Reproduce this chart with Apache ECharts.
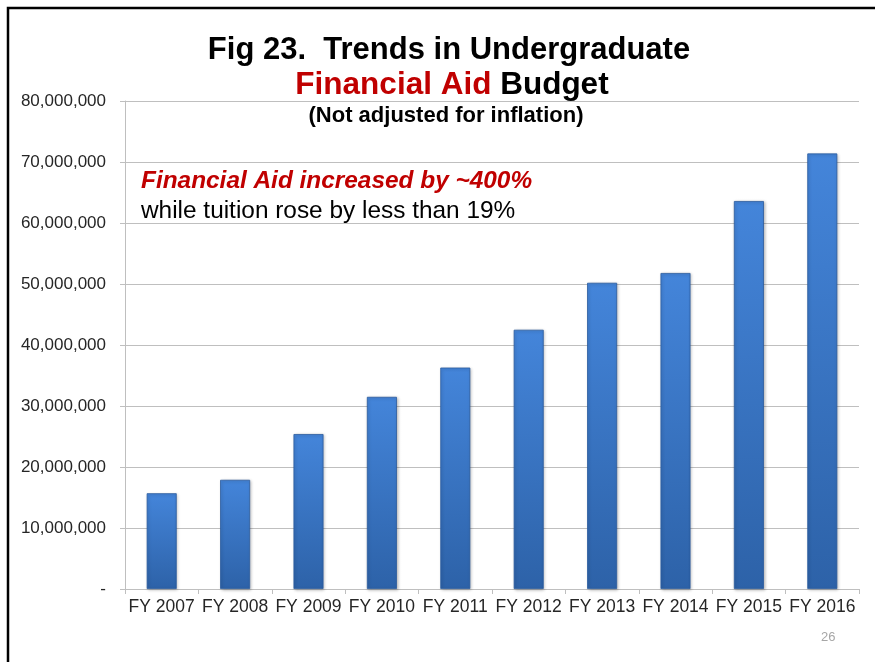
<!DOCTYPE html>
<html>
<head>
<meta charset="utf-8">
<script src="https://cdn.jsdelivr.net/npm/echarts@6/dist/echarts.min.js"></script>
<style>
html,body{margin:0;padding:0;background:#fff;}
#chart{width:875px;height:662px;}
</style>
</head>
<body>
<div id="chart"></div>
<script>
const categories = ['FY 2007','FY 2008','FY 2009','FY 2010','FY 2011','FY 2012','FY 2013','FY 2014','FY 2015','FY 2016'];
const aidBudget = [15700000, 17900000, 25400000, 31500000, 36300000, 42500000, 50200000, 51800000, 63600000, 71400000];
const yTicks = [0, 10000000, 20000000, 30000000, 40000000, 50000000, 60000000, 70000000, 80000000];

const chart = echarts.init(document.getElementById('chart'), null, {renderer:'canvas'});
const FONT = '"Liberation Sans", Arial, sans-serif';

chart.setOption({
  animation:false,
  backgroundColor:'#fff',
  grid:{left:125, right:16, top:101, bottom:73, containLabel:false},
  xAxis:{
    type:'category',
    data:categories,
    axisLine:{lineStyle:{color:'#BFBFBF', width:1}},
    axisTick:{show:true, length:5, lineStyle:{color:'#BFBFBF'}},
    axisLabel:{color:'#262626', fontFamily:FONT, fontSize:17.5, margin:9, interval:0}
  },
  yAxis:{
    type:'value',
    min:yTicks[0], max:yTicks[yTicks.length-1], interval:10000000,
    axisLine:{show:true, lineStyle:{color:'#BFBFBF', width:1}},
    axisTick:{show:true, length:5, lineStyle:{color:'#BFBFBF'}},
    splitLine:{lineStyle:{color:'#BFBFBF', width:1}},
    axisLabel:{
      color:'#262626', fontFamily:FONT, fontSize:17, margin:19,
      formatter:function(v){ return v===0 ? '-' : v.toLocaleString('en-US'); }
    }
  },
  series:[{
    type:'bar',
    data:aidBudget,
    barWidth:30,
    itemStyle:{
      color:new echarts.graphic.LinearGradient(0,0,0,1,[
        {offset:0, color:'#4485DA'},
        {offset:1, color:'#2D62A8'}
      ]),
      borderColor:'#2B5C9E',
      borderWidth:0.8,
      shadowColor:'rgba(0,0,0,0.25)',
      shadowBlur:3,
      shadowOffsetX:1,
      shadowOffsetY:1
    }
  }],
  graphic:[
    {type:'rect', shape:{x:8, y:8, width:900, height:700}, style:{fill:'none', stroke:'#000', lineWidth:2.5}, silent:true},
    {type:'text', style:{text:'Fig 23.  Trends in Undergraduate', font:'bold 31px '+FONT, fill:'#000', textAlign:'center', textVerticalAlign:'middle', x:449, y:50}},
    {type:'text', style:{rich:{
        r:{font:'bold 31.5px '+FONT, fill:'#C00000'},
        b:{font:'bold 31.5px '+FONT, fill:'#000'}
      }, text:'{r|Financial Aid }{b|Budget}', textAlign:'center', textVerticalAlign:'middle', x:452, y:85}},
    {type:'text', style:{text:'(Not adjusted for inflation)', font:'bold 22px '+FONT, fill:'#000', textAlign:'center', textVerticalAlign:'middle', x:446, y:116}},
    {type:'text', style:{text:'Financial Aid increased by ~400%', font:'italic bold 24.4px '+FONT, fill:'#C00000', textAlign:'left', textVerticalAlign:'middle', x:141, y:181}},
    {type:'text', style:{text:'while tuition rose by less than 19%', font:'24.4px '+FONT, fill:'#000', textAlign:'left', textVerticalAlign:'middle', x:141, y:211}},
    {type:'text', style:{text:'26', font:'13px '+FONT, fill:'#A6A6A6', textAlign:'left', textVerticalAlign:'middle', x:821, y:637}}
  ]
});
</script>
</body>
</html>
